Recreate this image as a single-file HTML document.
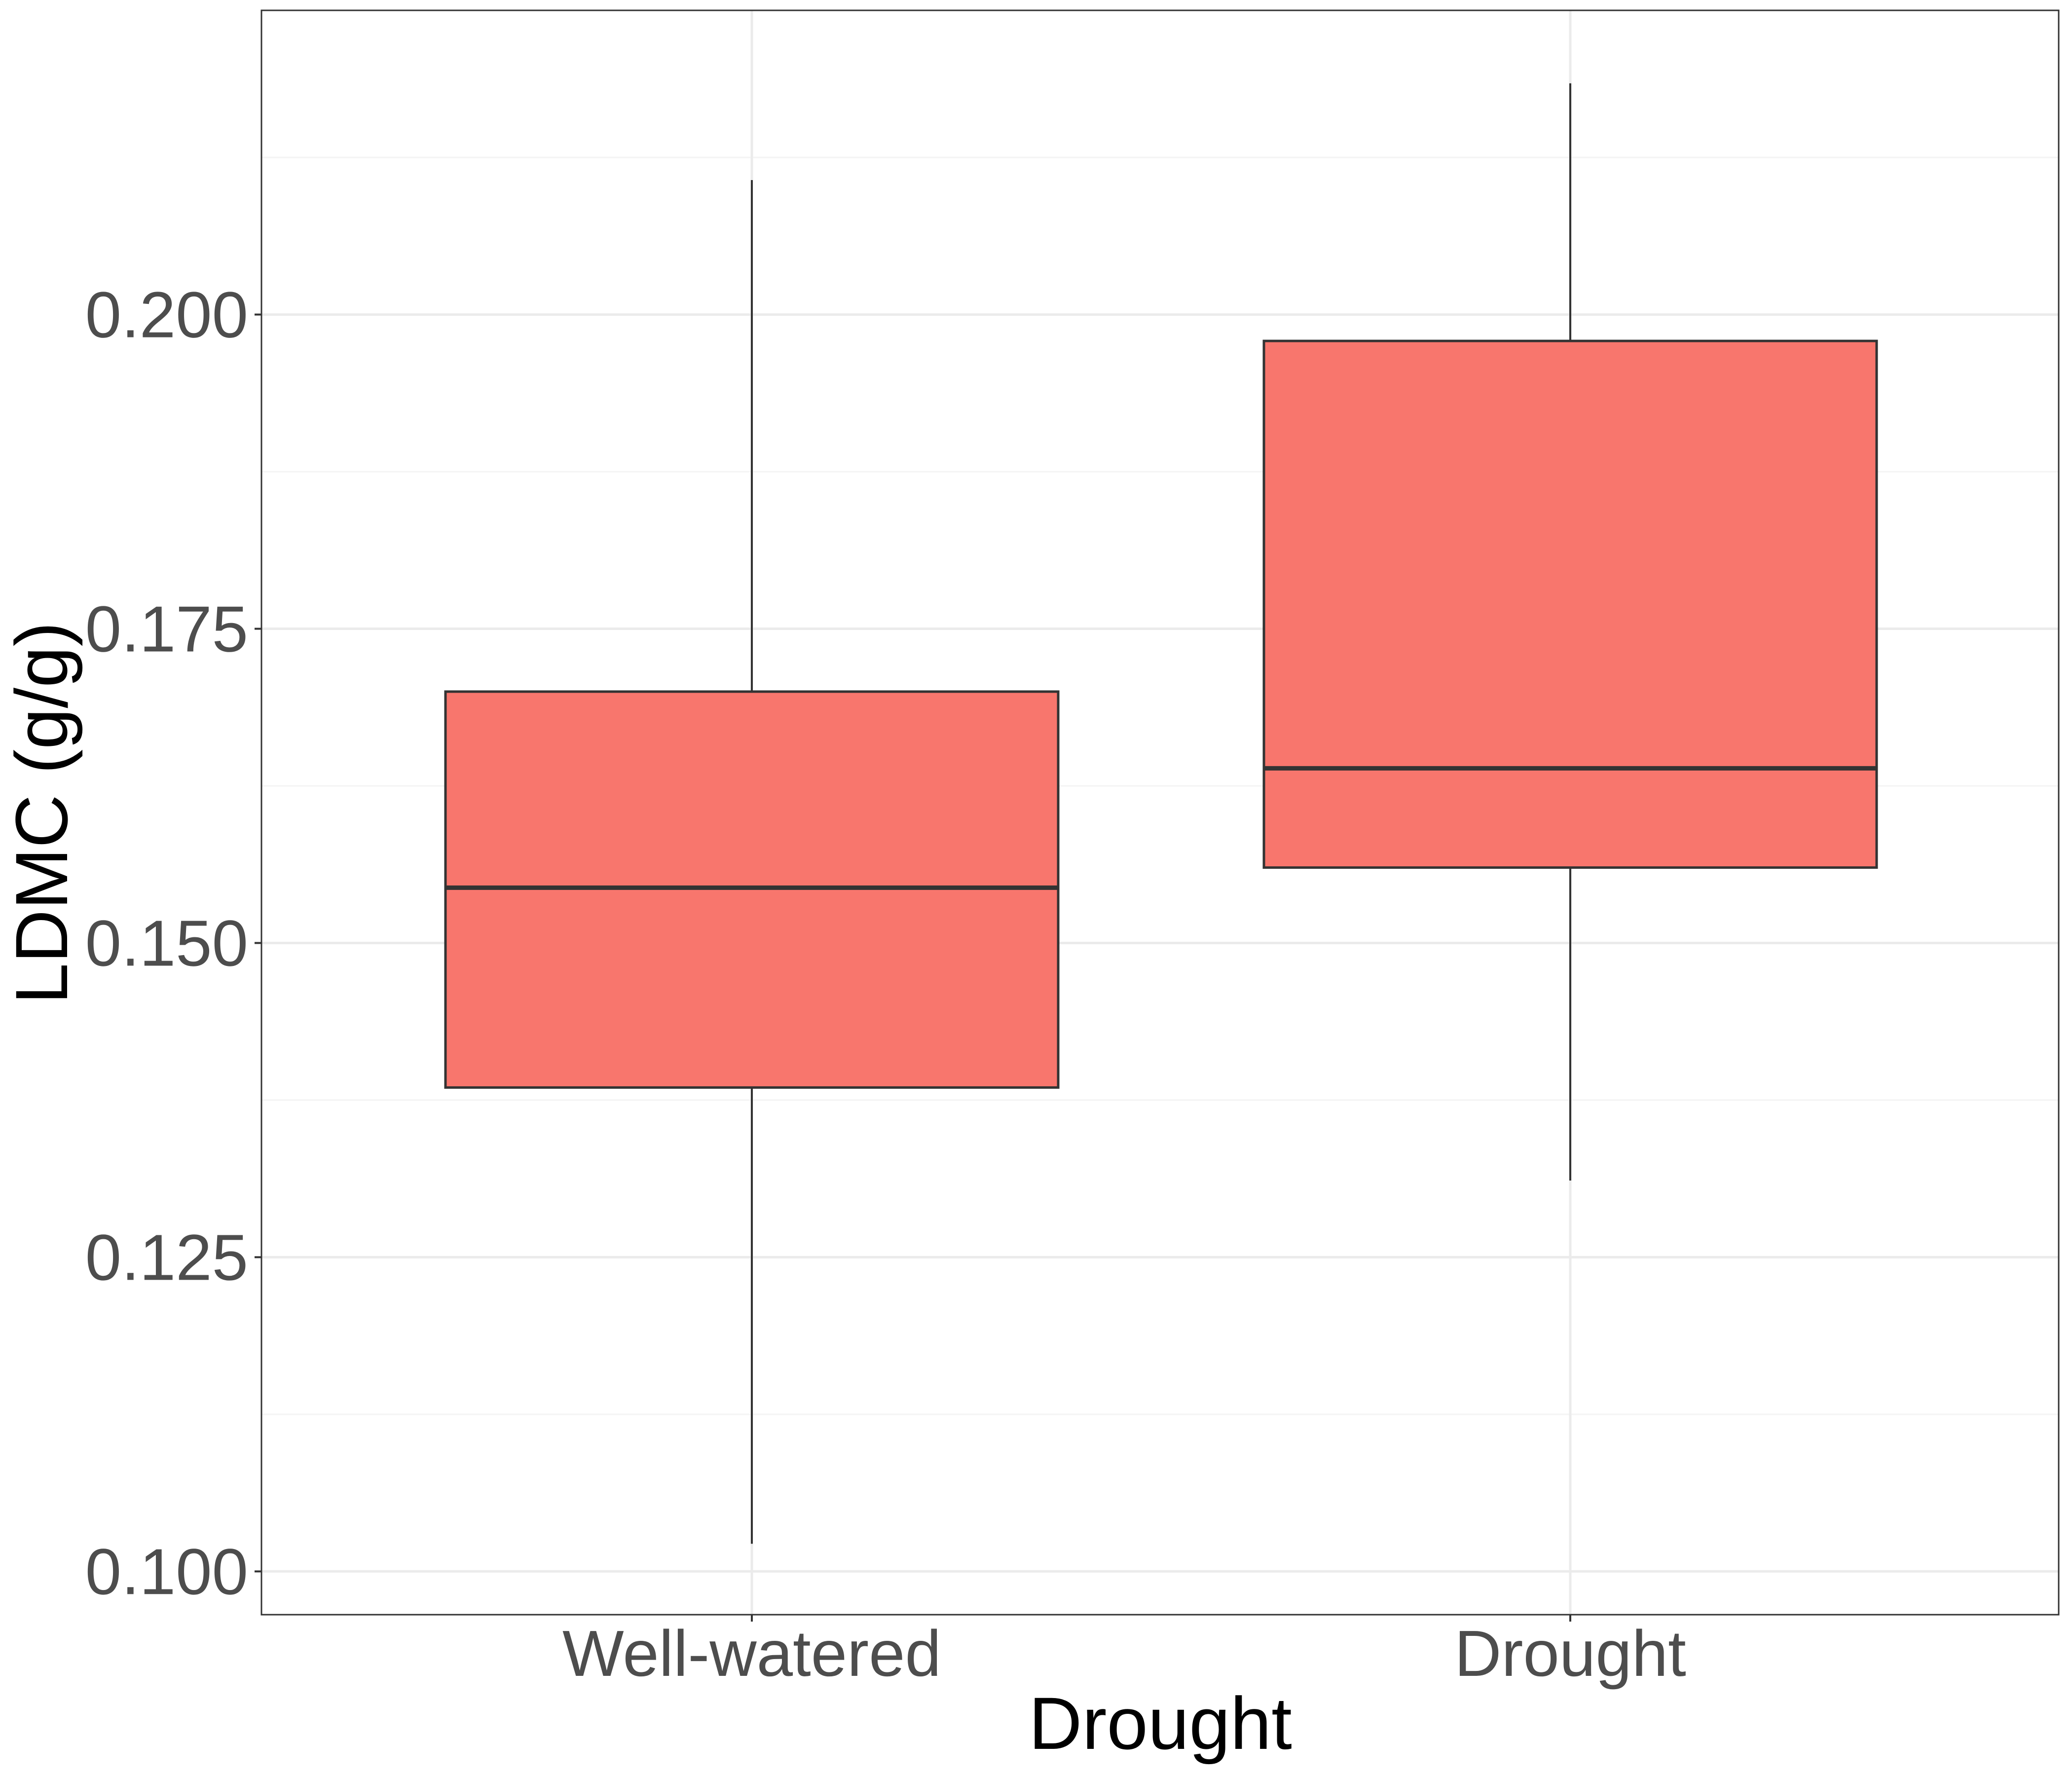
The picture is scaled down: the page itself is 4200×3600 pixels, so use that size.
<!DOCTYPE html>
<html><head><meta charset="utf-8"><style>html,body{margin:0;padding:0;background:#fff}svg{display:block}</style></head>
<body>
<svg id="chart" xmlns="http://www.w3.org/2000/svg" width="4200" height="3600" viewBox="0 0 4200 3600"></svg>
<script>
const categories = ["Well-watered", "Drought"];
const whiskerLow = [0.1022, 0.1311];
const q1Values = [0.1385, 0.1560];
const medianValues = [0.1544, 0.1639];
const q3Values = [0.1700, 0.1979];
const whiskerHigh = [0.2107, 0.2184];
const yTicks = [0.100, 0.125, 0.150, 0.175, 0.200];
const yTickLabels = ["0.100", "0.125", "0.150", "0.175", "0.200"];
const yMinor = [0.1125, 0.1375, 0.1625, 0.1875, 0.2125];

const NS = "http://www.w3.org/2000/svg";
const svg = document.getElementById("chart");
const P = {l: 530, r: 4173, t: 21, b: 3273};
const yScale = v => 637.6 + (0.200 - v) / 0.1 * 2547.7;
const xCenters = [1524, 3183];
const xScale = i => xCenters[i];
const boxHalf = 621;

function mk(tag, attrs, parent) {
  const e = document.createElementNS(NS, tag);
  for (const k in attrs) e.setAttribute(k, attrs[k]);
  (parent || svg).appendChild(e);
  return e;
}

const grid = mk("g", {});


yMinor.forEach(v => {
  const l = mk("line", {x1: P.l, x2: P.r, y1: yScale(v), y2: yScale(v), stroke: "#F4F4F4", "stroke-width": 3}, grid);
  
  
});
yTicks.forEach(v => {
  const l = mk("line", {x1: P.l, x2: P.r, y1: yScale(v), y2: yScale(v), stroke: "#EBEBEB", "stroke-width": 5}, grid);
  
  
});
categories.forEach((c, i) => {
  const l = mk("line", {x1: xScale(i), x2: xScale(i), y1: P.t, y2: P.b, stroke: "#EBEBEB", "stroke-width": 5}, grid);
  
  
});

categories.forEach((c, i) => {
  const g = mk("g", {});
  
  
  const x = xScale(i);
  const w1 = mk("line", {x1: x, x2: x, y1: yScale(whiskerHigh[i]), y2: yScale(q3Values[i]), stroke: "#333", "stroke-width": 4}, g);
  
  
  const w2 = mk("line", {x1: x, x2: x, y1: yScale(q1Values[i]), y2: yScale(whiskerLow[i]), stroke: "#333", "stroke-width": 4}, g);
  
  
  const r = mk("rect", {x: x - boxHalf, y: yScale(q3Values[i]), width: 2 * boxHalf, height: yScale(q1Values[i]) - yScale(q3Values[i]), fill: "#F8766D", stroke: "#333", "stroke-width": 5}, g);
  
  
  const m = mk("line", {x1: x - boxHalf, x2: x + boxHalf, y1: yScale(medianValues[i]), y2: yScale(medianValues[i]), stroke: "#333", "stroke-width": 9}, g);
  
  
});

const border = mk("rect", {x: P.l, y: P.t, width: P.r - P.l, height: P.b - P.t, fill: "none", stroke: "#333", "stroke-width": 3});



yTicks.forEach((v, i) => {
  const tk = mk("line", {x1: P.l - 14, x2: P.l, y1: yScale(v), y2: yScale(v), stroke: "#333", "stroke-width": 4});
  
  
  const t = mk("text", {x: 503, y: yScale(v) + 46, "text-anchor": "end", "font-family": "Liberation Sans, sans-serif", "font-size": 132, fill: "#4D4D4D"});
  t.textContent = yTickLabels[i];
  
  
});
categories.forEach((c, i) => {
  const tk = mk("line", {x1: xScale(i), x2: xScale(i), y1: P.b, y2: P.b + 14, stroke: "#333", "stroke-width": 4});
  
  
  const t = mk("text", {x: xScale(i), y: 3397, "text-anchor": "middle", "font-family": "Liberation Sans, sans-serif", "font-size": 132, fill: "#4D4D4D"});
  t.textContent = c;
  
  
});
const xt = mk("text", {x: 2352, y: 3545, "text-anchor": "middle", "font-family": "Liberation Sans, sans-serif", "font-size": 150, fill: "#000"});
xt.textContent = "Drought";


const yt = mk("text", {x: 0, y: 0, transform: "translate(136,1648) rotate(-90)", "text-anchor": "middle", "font-family": "Liberation Sans, sans-serif", "font-size": 150, fill: "#000"});
yt.textContent = "LDMC (g/g)";


</script>
</body></html>
